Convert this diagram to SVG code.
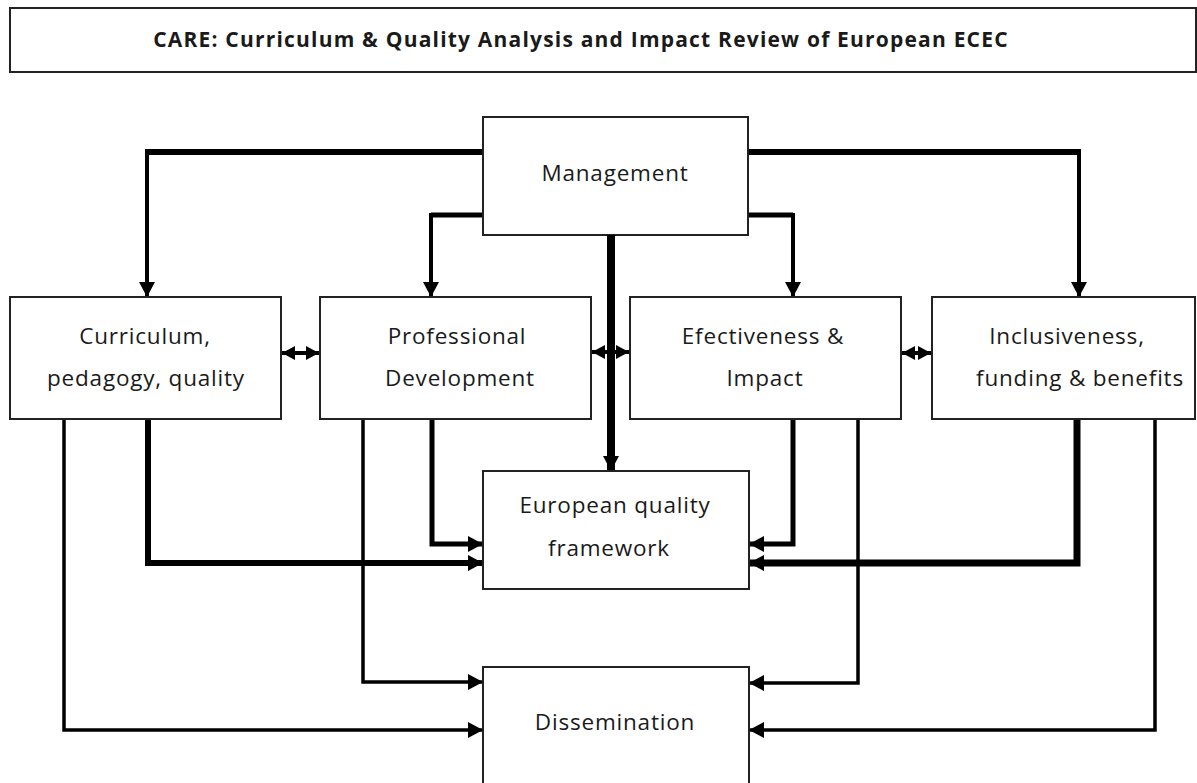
<svg xmlns="http://www.w3.org/2000/svg" width="1197" height="783" viewBox="0 0 1197 783">
<style>
.box{fill:#fff;stroke:#222;stroke-width:2}
.t{font-family:"Open Sans","Liberation Sans",sans-serif;font-size:22.5px;fill:#1a1a1a;text-anchor:middle;letter-spacing:0.8px}
.title{font-family:"Open Sans","Liberation Sans",sans-serif;font-size:21px;font-weight:bold;fill:#1a1a1a;text-anchor:middle;letter-spacing:1.2px}
.c{fill:none;stroke:#000;stroke-linejoin:miter;stroke-linecap:butt}
</style>
<defs>
<marker id="ah" markerUnits="userSpaceOnUse" markerWidth="16" markerHeight="18" refX="15" refY="8" orient="auto-start-reverse" viewBox="0 0 16 16">
<path d="M0,0 L15,8 L0,16 Z" fill="#000"/>
</marker>
<marker id="as" markerUnits="userSpaceOnUse" markerWidth="14" markerHeight="16" refX="13" refY="7" orient="auto-start-reverse" viewBox="0 0 14 14">
<path d="M0,0 L13,7 L0,14 Z" fill="#000"/>
</marker>
</defs>
<rect width="1197" height="783" fill="#fff"/>
<g id="title">
<rect class="box" x="10" y="8" width="1186" height="64"/>
<text class="title" x="581" y="47">CARE: Curriculum &amp; Quality Analysis and Impact Review of European ECEC</text>
</g>
<g id="connectors">
<path class="c" d="M483,152 H147" stroke-width="6"/>
<path class="c" d="M147,149 V297" stroke-width="4" marker-end="url(#ah)"/>
<path class="c" d="M483,215 H431" stroke-width="5"/>
<path class="c" d="M431,213 V297" stroke-width="4" marker-end="url(#ah)"/>
<path class="c" d="M748,215 H793" stroke-width="5"/>
<path class="c" d="M793,213 V297" stroke-width="4" marker-end="url(#ah)"/>
<path class="c" d="M748,152 H1079" stroke-width="6"/>
<path class="c" d="M1079,149 V297" stroke-width="4" marker-end="url(#ah)"/>
<path class="c" d="M611,235 V471" stroke-width="8" marker-end="url(#ah)"/>
<path class="c" d="M148,419 V563 H483" stroke-width="6" marker-end="url(#ah)"/>
<path class="c" d="M64,419 V730 H483" stroke-width="3.5" marker-end="url(#ah)"/>
<path class="c" d="M432,419 V544 H483" stroke-width="5" marker-end="url(#ah)"/>
<path class="c" d="M363,419 V682 H483" stroke-width="3.5" marker-end="url(#ah)"/>
<path class="c" d="M793,419 V544 H749" stroke-width="5" marker-end="url(#ah)"/>
<path class="c" d="M858,419 V683 H749" stroke-width="3.5" marker-end="url(#ah)"/>
<path class="c" d="M1077,419 V563 H749" stroke-width="7" marker-end="url(#ah)"/>
<path class="c" d="M1155,419 V730 H749" stroke-width="3.5" marker-end="url(#ah)"/>
<path class="c" d="M282,353 H319" stroke-width="4" marker-start="url(#as)" marker-end="url(#as)"/>
<path class="c" d="M592,352 H629" stroke-width="4" marker-start="url(#as)" marker-end="url(#as)"/>
<path class="c" d="M902,353 H931" stroke-width="4" marker-start="url(#as)" marker-end="url(#as)"/>
</g>
<g id="management">
<rect class="box" x="483" y="117" width="265" height="118"/>
<text class="t" x="615" y="181">Management</text>
</g>
<g id="curriculum">
<rect class="box" x="10" y="297" width="271" height="122"/>
<text class="t" x="145" y="344">Curriculum,</text>
<text class="t" x="146" y="386">pedagogy, quality</text>
</g>
<g id="professional">
<rect class="box" x="320" y="297" width="271" height="122"/>
<text class="t" x="457" y="344">Professional</text>
<text class="t" x="460" y="386">Development</text>
</g>
<g id="effectiveness">
<rect class="box" x="630" y="297" width="271" height="122"/>
<text class="t" x="763" y="344">Efectiveness &amp;</text>
<text class="t" x="765" y="386">Impact</text>
</g>
<g id="inclusiveness">
<rect class="box" x="932" y="297" width="263" height="122"/>
<text class="t" x="1067" y="344">Inclusiveness,</text>
<text class="t" x="1080" y="386">funding &amp; benefits</text>
</g>
<g id="european">
<rect class="box" x="483" y="471" width="266" height="118"/>
<text class="t" x="615" y="513">European quality</text>
<text class="t" x="609" y="556">framework</text>
</g>
<g id="dissemination">
<rect class="box" x="483" y="667" width="266" height="140"/>
<text class="t" x="615" y="730">Dissemination</text>
</g>
<g id="connectors-over">
<path class="c" d="M611,235 V455" stroke-width="8"/>
</g>
</svg>
